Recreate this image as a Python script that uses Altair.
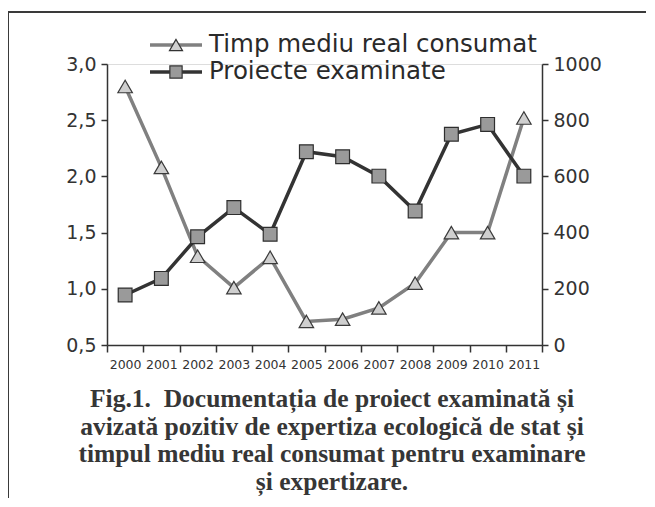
import altair as alt
import pandas as pd

years = [str(y) for y in range(2000, 2012)]
timp = [2.80, 2.08, 1.29, 1.01, 1.28, 0.71, 0.73, 0.83, 1.05, 1.50, 1.50, 2.52]
proiecte = [178, 237, 385, 489, 394, 688, 670, 601, 477, 750, 785, 601]
legend_labels = ["Timp mediu real consumat", "Proiecte examinate"]
caption = [
    "Fig.1.\u00a0 Documentația de proiect examinată și",
    "avizată pozitiv de expertiza ecologică de stat și",
    "timpul mediu real consumat pentru examinare",
    "și expertizare.",
]

df = pd.DataFrame({"year": years, "timp": timp, "proiecte": proiecte})
one = pd.DataFrame({"k": [0]})

FONT = "DejaVu Sans"
DARK = "#333333"
LIGHTLINE = "#808080"

xenc = alt.X(
    "year:O",
    scale=alt.Scale(type="band", paddingInner=0, paddingOuter=0),
    axis=alt.Axis(
        title=None, tickBand="extent", labelAngle=0, labelFont=FONT,
        labelFontSize=12.5, labelColor=DARK, domainColor=DARK, domainWidth=1.5,
        tickColor=DARK, tickWidth=1.5, tickSize=7, labelPadding=6, grid=False,
    ),
)

yleft = alt.Y(
    "timp:Q",
    scale=alt.Scale(domain=[0.5, 3.0], nice=False, zero=False),
    axis=alt.Axis(
        title=None, orient="left", values=[0.5, 1.0, 1.5, 2.0, 2.5, 3.0],
        labelExpr="replace(format(datum.value, '.1f'), '.', ',')",
        labelFont=FONT, labelFontSize=19, labelColor=DARK, domainColor=DARK,
        domainWidth=1.5, tickColor=DARK, tickWidth=1.5, tickSize=6,
        labelPadding=5, grid=False,
    ),
)

yright = alt.Y(
    "proiecte:Q",
    scale=alt.Scale(domain=[0, 1000], nice=False, zero=True),
    axis=alt.Axis(
        title=None, orient="right", values=[0, 200, 400, 600, 800, 1000],
        format="d",
        labelFont=FONT, labelFontSize=19, labelColor=DARK, domainColor=DARK,
        domainWidth=1.5, tickColor=DARK, tickWidth=1.5, tickSize=6,
        labelPadding=5, grid=False,
    ),
)

base = alt.Chart(df)

timp_line = base.mark_line(color=LIGHTLINE, strokeWidth=3.5).encode(x=xenc, y=yleft)
timp_pts = base.mark_point(
    shape="triangle-up", size=210, filled=True, fill="#cfcfcf",
    stroke="#3a3a3a", strokeWidth=1.2, opacity=1,
).encode(x=xenc, y=yleft)
left = alt.layer(timp_line, timp_pts)

pr_line = base.mark_line(color=DARK, strokeWidth=3.5).encode(x=xenc, y=yright)
pr_pts = base.mark_point(
    shape="square", size=190, filled=True, fill="#9a9a9a",
    stroke="#2e2e2e", strokeWidth=1.2, opacity=1,
).encode(x=xenc, y=yright)
right = alt.layer(pr_line, pr_pts)

# legend (manual)
leg_y = [-19, 8]
leg_layers = []
styles = [
    (LIGHTLINE, "triangle-up", "#cfcfcf", 170),
    (DARK, "square", "#9a9a9a", 150),
]
for lab, yy, (lc, shp, fc, sz) in zip(legend_labels, leg_y, styles):
    leg_layers.append(
        alt.Chart(one).mark_rule(color=lc, strokeWidth=3.5).encode(
            x=alt.value(43), x2=alt.value(95), y=alt.value(yy)
        )
    )
    leg_layers.append(
        alt.Chart(one).mark_point(
            shape=shp, size=sz, filled=True, fill=fc, stroke="#333333",
            strokeWidth=1.2, opacity=1,
        ).encode(x=alt.value(69), y=alt.value(yy))
    )
    leg_layers.append(
        alt.Chart(pd.DataFrame({"t": [lab]})).mark_text(
            align="left", baseline="middle", font=FONT, fontSize=24.5,
            color="#2a2a2a",
        ).encode(x=alt.value(102), y=alt.value(yy), text="t:N")
    )

# caption as text lines
cap_y = [343, 371, 398, 426]
cap_layers = []
for line, yy in zip(caption, cap_y):
    cap_layers.append(
        alt.Chart(pd.DataFrame({"t": [line]})).mark_text(
            align="center", baseline="alphabetic", font="Liberation Serif",
            fontSize=25.5, fontWeight="bold", color="#363636",
        ).encode(x=alt.value(225), y=alt.value(yy), text="t:N")
    )

frame_top = alt.Chart(one).mark_rule(color="#3a3a3a", strokeWidth=2).encode(
    x=alt.value(-99), x2=alt.value(539), y=alt.value(-52)
)
frame_left = alt.Chart(one).mark_rule(color="#3a3a3a", strokeWidth=2).encode(
    x=alt.value(-99), x2=alt.value(-99), y=alt.value(-53), y2=alt.value(434)
)

chart = alt.layer(left, right, frame_top, frame_left, *leg_layers, *cap_layers).resolve_scale(
    y="independent"
).properties(
    width=435,
    height=281,
    autosize=alt.AutoSizeParams(type="none"),
    padding={"left": 99, "top": 56, "right": 105, "bottom": 154},
).configure_view(stroke=None).configure(background="white")

chart.save("out.html", embed_options={"renderer": "svg", "actions": False})
